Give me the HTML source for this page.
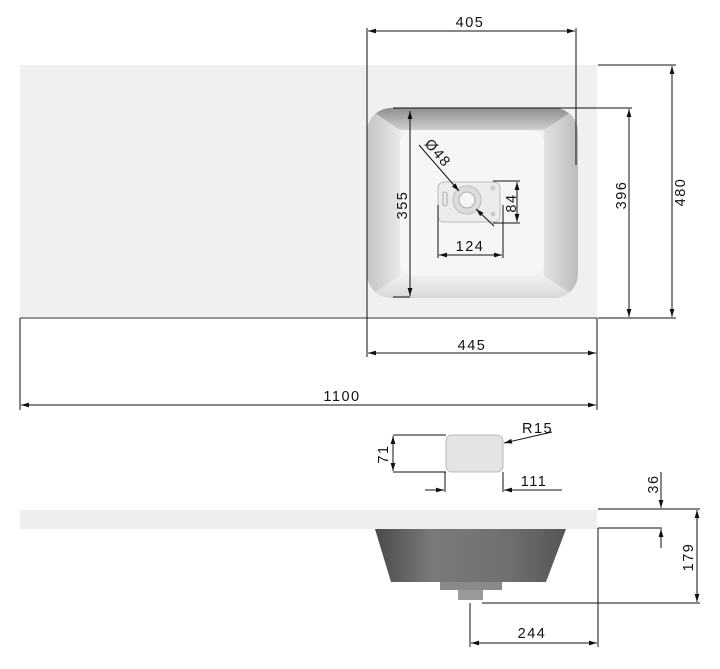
<!DOCTYPE html>
<html><head><meta charset="utf-8"><style>
html,body{margin:0;padding:0;background:#fff;width:720px;height:669px;overflow:hidden}
svg text{font-family:"Liberation Sans",sans-serif;font-size:14.5px;fill:#111;letter-spacing:1.5px}
</style></head><body>
<svg width="720" height="669" viewBox="0 0 720 669" xmlns="http://www.w3.org/2000/svg">
<defs>
<marker id="a" viewBox="0 0 10 6" refX="10" refY="3" markerWidth="8" markerHeight="5" orient="auto-start-reverse"><path d="M0,0L10,3L0,6z" fill="#111"/></marker>
<linearGradient id="wt" x1="0" y1="0" x2="0" y2="1"><stop offset="0" stop-color="#8e8e8e"/><stop offset="1" stop-color="#d0d0d0"/></linearGradient>
<linearGradient id="wl" x1="0" y1="0" x2="1" y2="0"><stop offset="0" stop-color="#c4c4c4"/><stop offset="1" stop-color="#e8e8e8"/></linearGradient>
<linearGradient id="wr" x1="1" y1="0" x2="0" y2="0"><stop offset="0" stop-color="#bcbcbc"/><stop offset="1" stop-color="#e2e2e2"/></linearGradient>
<linearGradient id="wb" x1="0" y1="1" x2="0" y2="0"><stop offset="0" stop-color="#d8d8d8"/><stop offset="1" stop-color="#f0f0f0"/></linearGradient>
<linearGradient id="side" x1="0" y1="0" x2="1" y2="0">
<stop offset="0" stop-color="#4a4a4a"/><stop offset="0.3" stop-color="#7a7a7a"/><stop offset="0.7" stop-color="#707070"/><stop offset="1" stop-color="#555"/></linearGradient>
<clipPath id="bc"><rect x="367" y="108" width="211" height="190" rx="24"/></clipPath>
</defs>

<!-- top view -->
<rect x="20" y="65" width="577" height="253" fill="#f0f0f0"/>
<line x1="20" y1="318" x2="597" y2="318" stroke="#333" stroke-width="1"/>
<g clip-path="url(#bc)">
<polygon points="367,108 578,108 544,130 400,130" fill="url(#wt)"/>
<polygon points="367,108 400,130 400,276 367,298" fill="url(#wl)"/>
<polygon points="578,108 544,130 544,276 578,298" fill="url(#wr)"/>
<polygon points="367,298 400,276 544,276 578,298" fill="url(#wb)"/>
</g>
<rect x="400" y="130" width="144" height="146" rx="14" fill="#f6f6f6"/>
<rect x="438" y="182" width="62" height="40" rx="6" fill="#ececec" stroke="#bbb"/>
<circle cx="467" cy="200" r="14" fill="#ddd" stroke="#bbb"/>
<circle cx="467" cy="200" r="8" fill="#f6f6f6" stroke="#aaa"/>
<circle cx="493" cy="188" r="2.5" fill="#ccc"/><circle cx="493" cy="214" r="2.5" fill="#ccc"/>
<rect x="443" y="192" width="4" height="14" rx="2" fill="none" stroke="#aaa"/>

<g stroke="#111" stroke-width="1" fill="none">
<line x1="367" y1="28" x2="367" y2="357"/><line x1="576" y1="28" x2="576" y2="165"/>
<line x1="368" y1="31" x2="575" y2="31" marker-start="url(#a)" marker-end="url(#a)"/>
<line x1="598" y1="65" x2="676" y2="65"/><line x1="598" y1="318" x2="676" y2="318"/>
<line x1="672" y1="66" x2="672" y2="317" marker-start="url(#a)" marker-end="url(#a)"/>
<line x1="393" y1="108" x2="632" y2="108"/>
<line x1="629" y1="109" x2="629" y2="317" marker-start="url(#a)" marker-end="url(#a)"/>
<line x1="393" y1="297" x2="410" y2="297"/>
<line x1="410" y1="111" x2="410" y2="296" marker-start="url(#a)" marker-end="url(#a)"/>
<line x1="597" y1="318" x2="597" y2="410"/>
<line x1="368" y1="353" x2="596" y2="353" marker-start="url(#a)" marker-end="url(#a)"/>
<line x1="20" y1="318" x2="20" y2="410"/>
<line x1="21" y1="405" x2="596" y2="405" marker-start="url(#a)" marker-end="url(#a)"/>
<line x1="438" y1="205" x2="438" y2="258"/><line x1="503" y1="205" x2="503" y2="258"/>
<line x1="439" y1="255" x2="502" y2="255" marker-start="url(#a)" marker-end="url(#a)"/>
<line x1="493" y1="181" x2="520" y2="181"/><line x1="493" y1="223" x2="520" y2="223"/>
<line x1="517" y1="182" x2="517" y2="222" marker-start="url(#a)" marker-end="url(#a)"/>
<line x1="419" y1="145" x2="459" y2="191" marker-end="url(#a)"/>
<line x1="494" y1="226" x2="476" y2="209" marker-end="url(#a)"/>
</g>
<text x="470" y="27" text-anchor="middle">405</text>
<text x="472" y="350" text-anchor="middle">445</text>
<text x="342" y="401" text-anchor="middle">1100</text>
<text x="470" y="251" text-anchor="middle">124</text>
<text transform="translate(685,192) rotate(-90)" text-anchor="middle">480</text>
<text transform="translate(626,195) rotate(-90)" text-anchor="middle">396</text>
<text transform="translate(407,205) rotate(-90)" text-anchor="middle">355</text>
<text transform="translate(516,203) rotate(-90)" text-anchor="middle">84</text>
<text transform="translate(424,144) rotate(50)">Ø48</text>

<rect x="446" y="435" width="57" height="37" rx="6" fill="#e4e4e4" stroke="#aaa" stroke-width="0.8"/>
<g stroke="#111" stroke-width="1" fill="none">
<line x1="393" y1="435" x2="446" y2="435"/><line x1="393" y1="472" x2="446" y2="472"/>
<line x1="393" y1="436" x2="393" y2="471" marker-start="url(#a)" marker-end="url(#a)"/>
<line x1="445" y1="472" x2="445" y2="492"/><line x1="503" y1="472" x2="503" y2="492"/>
<line x1="425" y1="490" x2="444" y2="490" marker-end="url(#a)"/>
<line x1="562" y1="490" x2="504" y2="490" marker-end="url(#a)"/>
<line x1="552" y1="432" x2="504" y2="443" marker-end="url(#a)"/>
</g>
<text transform="translate(388,454) rotate(-90)" text-anchor="middle">71</text>
<text x="534" y="486" text-anchor="middle">111</text>
<text x="522" y="433">R15</text>

<rect x="20" y="510" width="577" height="19" fill="#eeeeee"/>
<polygon points="375,529 566,529 546,582 391,582" fill="url(#side)"/>
<rect x="440" y="582" width="62" height="8" fill="#8a8a8a"/>
<rect x="458" y="590" width="25" height="10" fill="#9a9a9a"/>
<g stroke="#111" stroke-width="1" fill="none">
<line x1="598" y1="509" x2="700" y2="509"/>
<line x1="598" y1="528" x2="662" y2="528"/>
<line x1="598" y1="528" x2="598" y2="647"/>
<line x1="661" y1="472" x2="661" y2="508" marker-end="url(#a)"/>
<line x1="661" y1="548" x2="661" y2="529" marker-end="url(#a)"/>
<line x1="482" y1="603" x2="700" y2="603"/>
<line x1="697" y1="510" x2="697" y2="602" marker-start="url(#a)" marker-end="url(#a)"/>
<line x1="470" y1="603" x2="470" y2="647"/>
<line x1="471" y1="643" x2="597" y2="643" marker-start="url(#a)" marker-end="url(#a)"/>
</g>
<text transform="translate(658,484) rotate(-90)" text-anchor="middle">36</text>
<text transform="translate(693,557) rotate(-90)" text-anchor="middle">179</text>
<text x="532" y="638" text-anchor="middle">244</text>
</svg>
</body></html>
